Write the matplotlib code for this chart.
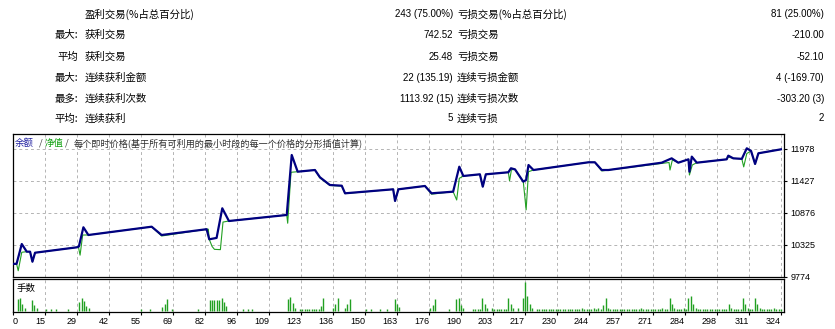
import matplotlib.pyplot as plt
import numpy as np

#======================================================================================
# TABLA DE ESTADISTICAS (texto tal cual del informe)
PREFIJOS = ['', '最大:', '平均', '最大:', '最多:', '平均:']
ETIQ_GANANCIA = ['盈利交易(%占总百分比)', '获利交易', '获利交易', '连续获利金额', '连续获利次数', '连续获利']
VAL_GANANCIA = ['243 (75.00%)', '742.52', '25.48', '22 (135.19)', '1113.92 (15)', '5']
ETIQ_PERDIDA = ['亏损交易(%占总百分比)', '亏损交易', '亏损交易', '连续亏损金额', '连续亏损次数', '连续亏损']
VAL_PERDIDA = ['81 (25.00%)', '-210.00', '-52.10', '4 (-169.70)', '-303.20 (3)', '2']

#======================================================================================
# CURVA DE BALANCE (numero de operacion, balance)
BAL_T = [0, 1.5, 3.7, 5.8, 7.2, 8.2, 9.3,
         26.9, 27.8, 29.7, 31.8, 58.5, 62.7,
         81.7, 82.8, 85.9, 88.3, 91.1, 115.5, 117.6, 120.1,
         127.4, 129.5, 133.7, 138.7, 140.1, 160.4, 161.2, 162.6,
         173.8, 176.6, 185.7, 188.3, 190, 197, 198.2, 199.5,
         209, 210.1, 211.8, 215.3, 216.5, 217.5, 219.6,
         242.8, 245.5, 248.4, 251.2, 273.7, 277.9, 280.7,
         285, 285.4, 286.4, 288.5, 301.1, 301.8, 303.9, 307.5,
         309.6, 311.4, 313.1, 314.5, 324]
BAL_V = [10000, 10000, 10342, 10210, 10210, 10037, 10192,
         10285, 10300, 10630, 10497, 10640, 10497,
         10597, 10423, 10447, 10957, 10738, 10842, 11875, 11587,
         11616, 11491, 11358, 11346, 11215, 11284, 11083, 11284,
         11341, 11215, 11243, 11673, 11513, 11542, 11329, 11542,
         11577, 11646, 11627, 11415, 11444, 11702, 11616,
         11749, 11749, 11616, 11616, 11742, 11817, 11742,
         11800, 11587, 11846, 11742, 11800, 11863, 11817, 11808,
         11990, 11944, 11720, 11904, 11972]

# CURVA DE EQUITY (净值)
EQ_T = [0, 1.5, 2.2, 3.7, 5.8, 7.2, 8.2, 9.3,
        26.9, 27.6, 28.3, 29.4, 31.8, 58.5, 62.7,
        81.7, 82.4, 82.8, 84.0, 85.0, 87.5, 88.6, 91.1,
        115.5, 115.9, 117.3, 120.1, 127.4, 129.5, 133.7, 138.7, 140.1,
        160.4, 161.2, 162.6, 173.8, 176.6, 185.7, 187.2, 188.3, 190.0,
        197.0, 198.2, 199.5, 209.0, 209.5, 210.3, 211.8,
        215.3, 216.5, 217.5, 219.6, 242.8, 245.5, 248.4, 251.2,
        276.8, 277.2, 278.2, 280.7, 285.0, 285.4, 286.6, 288.5,
        301.1, 301.8, 303.9, 307.5, 308.3, 309.6, 311.4, 313.1, 314.5, 324]
EQ_V = [10000, 10000, 9882, 10200, 10210, 10210, 10037, 10192,
        10285, 10290, 10150, 10497, 10497, 10640, 10480,
        10597, 10597, 10423, 10300, 10250, 10245, 10720, 10738,
        10842, 10700, 11577, 11587, 11616, 11480, 11350, 11340, 11210,
        11284, 11083, 11284, 11341, 11200, 11243, 11100, 11473, 11513,
        11542, 11329, 11542, 11577, 11430, 11620, 11627,
        11415, 10930, 11587, 11616, 11749, 11749, 11600, 11616,
        11745, 11616, 11790, 11742, 11800, 11530, 11702, 11742,
        11800, 11840, 11817, 11808, 11670, 11900, 11944, 11720, 11904, 11972]

# LOTES (手数) POR OPERACION
LOT_T = [2, 3, 4, 5, 8, 9, 10, 14, 16, 18, 23,
         28, 29, 30, 31, 32, 54, 58, 63, 64, 65, 67, 78,
         83, 84, 85, 86, 87, 88, 89, 90, 97, 99, 101,
         116, 117, 118, 119, 121, 122, 123, 124, 125, 126, 127, 128, 129, 130, 131,
         135, 136, 137, 140, 141, 142, 149, 151, 155, 158, 161, 162, 163,
         176, 177, 178, 184, 187, 188, 189, 190, 194, 195, 196, 197, 198, 199, 200, 202,
         203, 204, 205, 206, 207, 208, 209, 210, 211, 213, 215, 216, 217, 218, 219,
         221, 222, 223, 224, 225, 226, 227, 228, 229, 230, 231, 232, 233, 234,
         235, 236, 237, 238, 239, 240, 241, 242, 243, 244, 245, 246, 247, 248,
         249, 250, 251, 252, 253, 254, 255, 256, 257, 258, 259, 260, 261, 262,
         263, 264, 265, 266, 267, 268, 269, 270, 271, 272, 273, 274, 275, 276,
         277, 278, 279, 280, 281, 282, 283, 284, 285, 286, 287, 288,
         289, 290, 291, 292, 293, 294, 295, 296, 297, 298, 299, 300, 301,
         302, 303, 304, 305, 306, 307, 308, 309, 310, 311, 312, 313, 314, 315,
         316, 317, 318, 319, 320, 321, 322, 323, 324]
LOT_V = [.069, .075, .040, .020, .063, .035, .016, .010, .010, .010, .010,
         .055, .075, .059, .030, .016, .010, .010, .025, .040, .069, .014, .010,
         .063, .063, .063, .063, .063, .078, .053, .030, .010, .010, .010,
         .069, .082, .049, .020, .012, .012, .012, .012, .012, .012, .012, .012, .012, .030, .075,
         .020, .040, .075, .020, .040, .069, .010, .010, .010, .010, .069, .043, .025,
         .016, .034, .069, .014, .069, .078, .035, .020, .010, .010, .010, .010, .075, .040, .020, .016,
         .010, .010, .010, .010, .010, .010, .075, .040, .020, .016, .075, .172, .088, .043, .020,
         .010, .010, .010, .010, .010, .010, .010, .010, .010, .010, .010, .010, .010, .010,
         .010, .010, .010, .010, .010, .016, .010, .010, .010, .010, .016, .010, .020, .010,
         .034, .075, .020, .010, .010, .010, .010, .010, .010, .010, .010, .010, .010, .010,
         .010, .010, .016, .010, .010, .010, .010, .010, .010, .010, .010, .016, .010, .010,
         .075, .040, .016, .010, .010, .010, .020, .010, .075, .088, .043, .020,
         .010, .010, .010, .010, .010, .010, .010, .010, .010, .010, .010, .010, .010,
         .040, .020, .010, .010, .010, .010, .075, .040, .020, .010, .010, .075, .040, .020,
         .010, .010, .010, .010, .010, .016, .010, .010, .010]

X_ETIQ = ['0', '15', '29', '42', '55', '69', '82', '96', '109', '123', '136', '150', '163',
          '176', '190', '203', '217', '230', '244', '257', '271', '284', '298', '311', '324']
Y_TICKS = [9774, 10325, 10876, 11427, 11978]

#======================================================================================
# ESTILO
CJK = ['Noto Sans CJK SC', 'DejaVu Sans']
NUM = ['Liberation Sans', 'DejaVu Sans']
AZUL = '#000080'
VERDE = '#22a022'
GRIS_GRID = '#b4b4b4'
W, H = 835, 329

fig = plt.figure(figsize=(W / 100, H / 100), dpi=100)


def ejes_px(izq, arr, der, aba):
    # crea ejes a partir de coordenadas en pixeles
    return fig.add_axes([izq / W, 1 - aba / H, (der - izq) / W, (aba - arr) / H])


def px(x, y):
    return x / W, 1 - y / H


#======================================================================================
# TABLA SUPERIOR
filas_y = [14, 35, 56.5, 77.5, 98.5, 118.5]
for i, yy in enumerate(filas_y):
    fig.text(*px(78, yy), PREFIJOS[i], ha='right', va='center', fontsize=7.5, family=CJK)
    fig.text(*px(85, yy), ETIQ_GANANCIA[i], ha='left', va='center', fontsize=7.5, family=CJK)
    fig.text(*px(453, yy), VAL_GANANCIA[i], ha='right', va='center', fontsize=7, family=NUM)
    fig.text(*px(457, yy), ETIQ_PERDIDA[i], ha='left', va='center', fontsize=7.5, family=CJK)
    fig.text(*px(824, yy), VAL_PERDIDA[i], ha='right', va='center', fontsize=7, family=NUM)

#======================================================================================
# GRAFICO PRINCIPAL
xpos = np.linspace(0, 324, len(X_ETIQ))
ax = ejes_px(13, 134, 784, 277)
ax.plot(EQ_T, EQ_V, color=VERDE, linewidth=0.8, zorder=3)
ax.plot(BAL_T, BAL_V, color=AZUL, linewidth=1.6, zorder=4)
ax.set_xlim(0, 325.3)
ax.set_ylim(9774, 12236)
ax.set_xticks(xpos)
ax.set_yticks(Y_TICKS)
ax.set_yticklabels([str(v) for v in Y_TICKS], family=NUM)
ax.yaxis.tick_right()
ax.tick_params(axis='x', length=0, labelbottom=False)
ax.tick_params(axis='y', length=2.5, width=0.8, pad=2, labelsize=6.5)
ax.grid(True, color=GRIS_GRID, linestyle=(0, (3, 3)), linewidth=0.7, zorder=0)
for s in ax.spines.values():
    s.set_linewidth(0.9)

# titulo interno
fig.text(*px(15, 143), '余额', color='#2020a0', fontsize=6.8, family=CJK, va='center')
fig.text(*px(39, 143), '/', color='#404040', fontsize=6.8, family=CJK, va='center')
fig.text(*px(45, 143), '净值', color='#10a010', fontsize=6.8, family=CJK, va='center')
fig.text(*px(65, 143), '/', color='#404040', fontsize=6.8, family=CJK, va='center')
fig.text(*px(74, 143), '每个即时价格(基于所有可利用的最小时段的每一个价格的分形插值计算)',
         color='#303030', fontsize=6.6, family=CJK, va='center')

#======================================================================================
# PANEL DE LOTES
ax2 = ejes_px(13, 279, 784, 312)
ax2.vlines(LOT_T, 0, LOT_V, color=VERDE, linewidth=1.0, zorder=3)
ax2.set_xlim(0, 325.3)
ax2.set_ylim(-0.006, 0.188)
ax2.set_yticks([])
ax2.set_xticks(xpos)
ax2.set_xticklabels(X_ETIQ, family=NUM)
ax2.tick_params(axis='x', length=2, width=0.8, pad=1.5, labelsize=6.5)
for lbl in ax2.get_xticklabels():
    lbl.set_ha('right')
ax2.get_xticklabels()[0].set_ha('left')
ax2.grid(True, axis='x', color=GRIS_GRID, linestyle=(0, (3, 3)), linewidth=0.7, zorder=0)
for s in ax2.spines.values():
    s.set_linewidth(0.9)
ax2.text(*px(17, 288), '手数', transform=fig.transFigure, fontsize=6.8, family=CJK, va='center')

fig.savefig('out.png', dpi=100)
plt.close(fig)
